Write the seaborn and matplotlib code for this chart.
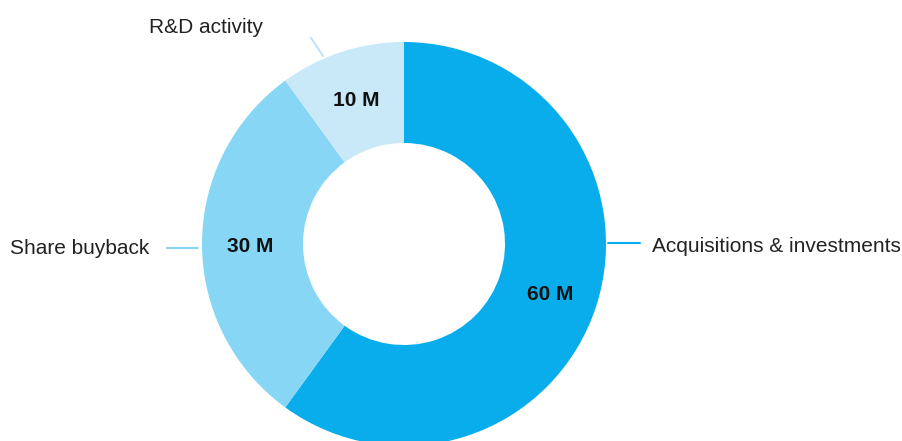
import numpy as np
import seaborn as sns
import matplotlib.pyplot as plt

sns.set_theme(style='white')
plt.rcParams['font.family'] = ['Liberation Sans', 'DejaVu Sans']

# 資料
categories = ['Acquisitions & investments', 'Share buyback', 'R&D activity']
values = [60, 30, 10]
colors = ['#0AADEB', '#88D6F5', '#C9E9F8']
line_colors = ['#0AADEB', '#88D6F5', '#BFE3F3']
total = sum(values)

fig = plt.figure(figsize=(9.02, 4.41), dpi=100)
ax = fig.add_axes([0, 0, 1, 1])

wedges, texts, autotexts = ax.pie(
    values, colors=colors, startangle=90, counterclock=False,
    radius=1.0, wedgeprops=dict(width=0.5, linewidth=0),
    autopct=lambda p: f'{p * total / 100:.0f} M', pctdistance=0.76,
    textprops=dict(fontsize=15, fontweight='bold', color='#111111'))
for t in autotexts:  # 稍微往下移
    x, y = t.get_position()
    t.set_position((x, y - 0.013))

# 標籤與引線
ax.plot([1.01, 1.17], [0.005, 0.005], color=line_colors[0], lw=1.5)
ax.text(1.228, -0.01, categories[0], fontsize=15, color='#222222', ha='left', va='center')

ax.plot([-1.175, -1.02], [-0.02, -0.02], color=line_colors[1], lw=1.5)
ax.text(-1.26, -0.02, categories[1], fontsize=15, color='#222222', ha='right', va='center')

ax.plot([-0.46, -0.40], [1.02, 0.93], color=line_colors[2], lw=1.5)
ax.text(-0.70, 1.07, categories[2], fontsize=15, color='#222222', ha='right', va='center')

ax.set_xlim(-404 / 202, (902 - 404) / 202)
ax.set_ylim(-197 / 202, 244 / 202)
ax.set_aspect('equal')
ax.axis('off')

fig.savefig('out.png', dpi=100)
